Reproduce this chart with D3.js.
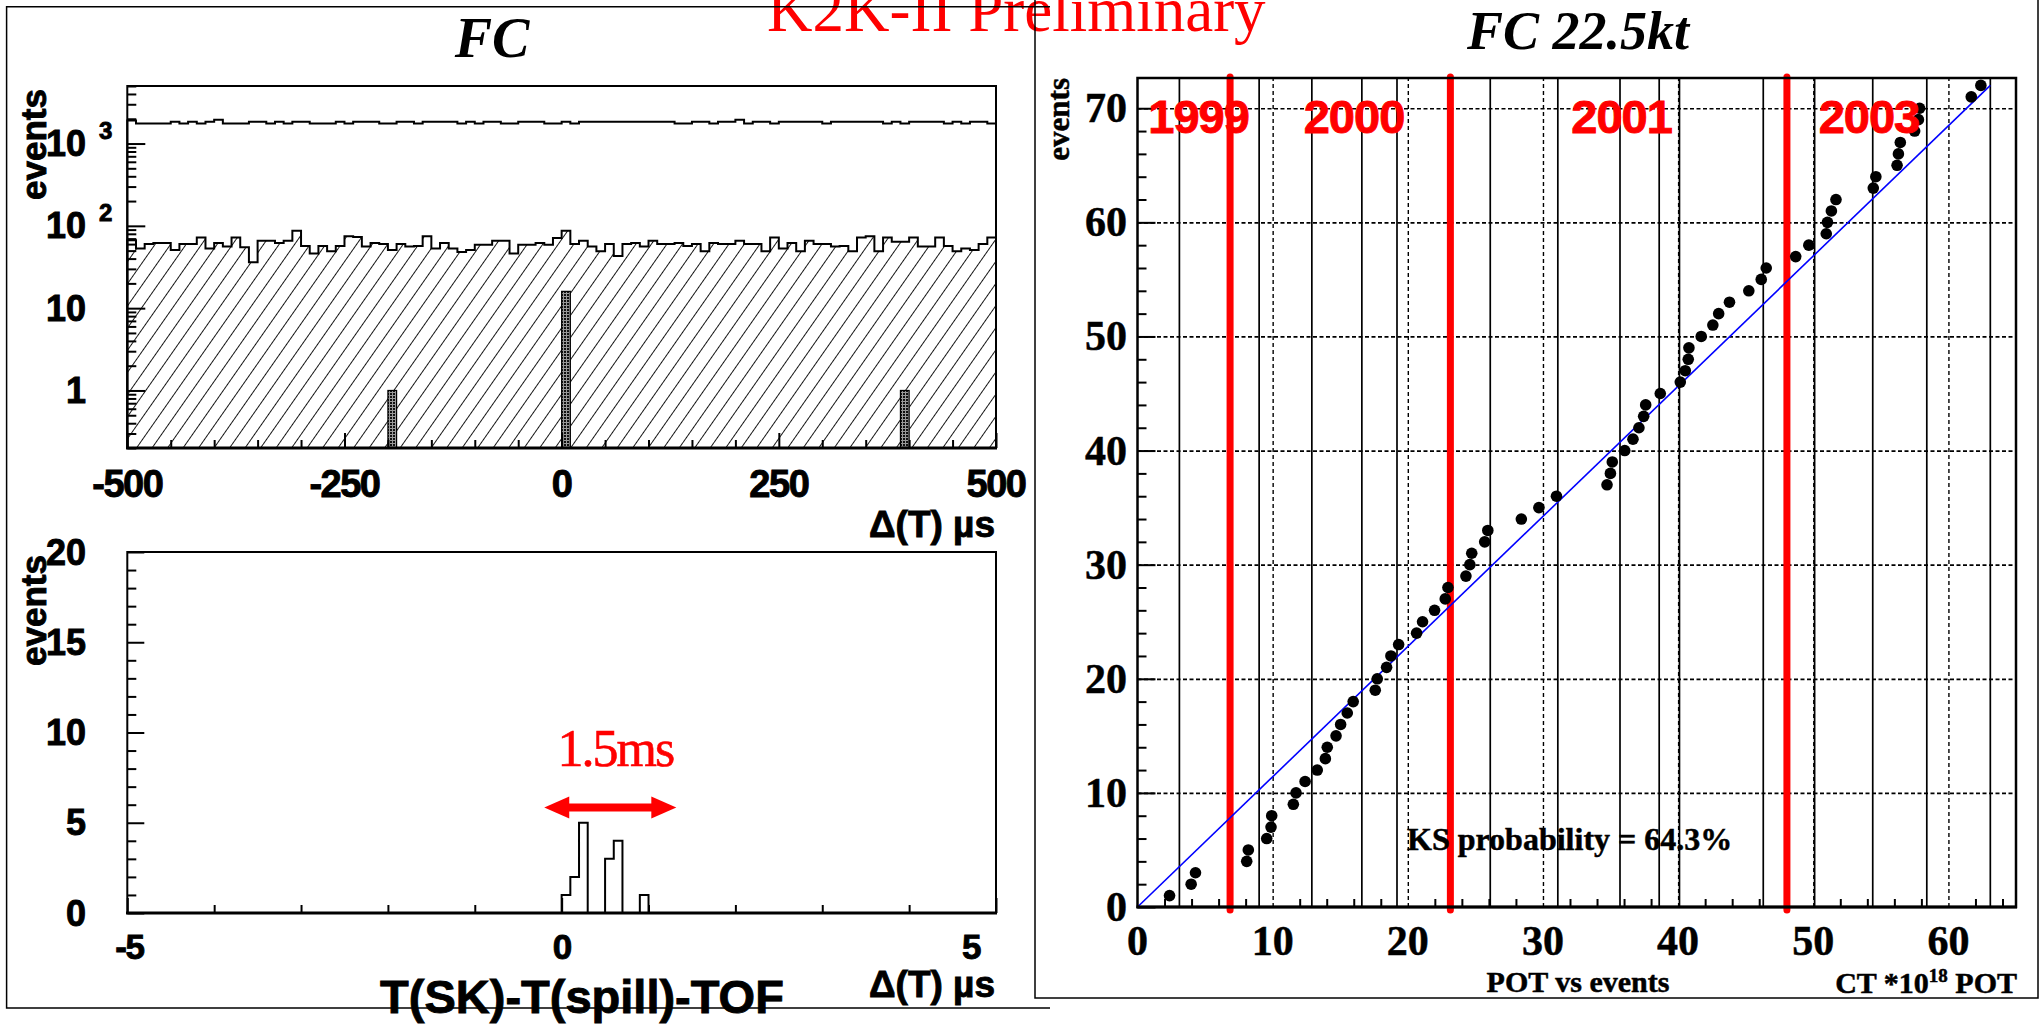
<!DOCTYPE html>
<html>
<head>
<meta charset="utf-8">
<script src="https://cdn.jsdelivr.net/npm/d3@7"></script>
<style>
  html, body { margin: 0; padding: 0; background: #fff; }
  svg { display: block; }
</style>
</head>
<body>
<svg id="chart" width="2040" height="1025"></svg>
<script>
// ---------------- data ----------------
// Delta(T) histogram, 10 us bins from -500 to 500
const dtBinStart = -500;
const dtBinWidth = 10;
const allTriggers = [
  1900,1750,1750,1750,1750,1840,1750,1840,1750,1840,
  1940,1750,1750,1750,1840,1840,1750,1840,1750,1840,
  1840,1750,1750,1750,1840,1750,1840,1840,1840,1750,
  1750,1840,1840,1750,1840,1840,1840,1840,1750,1840,
  1750,1840,1840,1750,1750,1840,1840,1840,1750,1750,
  1840,1750,1840,1840,1840,1840,1840,1840,1840,1840,
  1840,1840,1840,1750,1750,1840,1840,1750,1840,1840,
  1940,1750,1840,1840,1750,1840,1840,1840,1840,1840,
  1750,1840,1840,1840,1840,1840,1840,1750,1840,1750,
  1840,1840,1840,1840,1750,1840,1750,1840,1840,1750
];
const preCutEvents = [
  67,53,60,62,62,51,60,60,72,53,
  62,56,72,55,36,66,66,62,66,87,
  57,46,57,49,57,75,73,56,62,60,
  51,60,56,57,75,53,62,53,48,51,
  59,59,66,66,46,59,59,62,59,71,
  87,60,66,56,49,60,43,60,62,56,
  66,60,60,62,57,60,49,62,60,60,
  66,60,60,49,72,53,62,49,66,60,
  60,56,57,49,72,75,49,72,64,64,
  72,56,56,72,57,49,53,51,60,72
];
const fcBinLow = [-200, 0, 390];
const fcCounts = [1, 16, 1];

// fine timing histogram, 0.1 us bins starting at 0
const fineBinStart = 0.0;
const fineBinWidth = 0.1;
const fineCounts = [1, 2, 5, 0, 0, 3, 4, 0, 0, 1];
const spillWindow = [-0.2, 1.32];   // the 1.5 us window arrow

// accumulated POT (x10^18) at each FC event
const potValues = [
  2.37, 3.97, 4.29, 8.08, 8.20, 9.56, 9.88, 9.93, 11.53, 11.73,
  12.40, 13.30, 13.90, 14.04, 14.69, 15.03, 15.52, 15.96, 17.59, 17.74,
  18.43, 18.75, 19.32, 20.65, 21.09, 21.98, 22.77, 22.97, 24.30, 24.59,
  24.73, 25.69, 25.92, 28.40, 29.70, 31.00, 34.74, 34.99, 35.13, 36.05,
  36.66, 37.10, 37.45, 37.60, 38.68, 40.16, 40.53, 40.75, 40.80, 41.71,
  42.57, 43.00, 43.80, 45.23, 46.15, 46.52, 48.70, 49.67, 50.96, 51.05,
  51.34, 51.68, 54.44, 54.63, 56.20, 56.30, 56.44, 57.50, 57.78, 57.87,
  61.69, 62.40
];
const eventNumbers = [
  1,2,3,4,5,6,7,8,9,10,11,12,13,14,15,16,17,18,19,20,
  21,22,23,24,25,26,27,28,29,30,31,32,33,34,35,36,37,38,39,40,
  41,42,43,44,45,46,47,48,49,50,51,52,53,54,55,56,57,58,59,60,
  61,62,63,64,65,66,67,68,69,70,71,72
];
const expectedLine = [[0, 0], [63.1, 72]];
const yearBoundaries = [6.85, 23.15, 48.05];
const yearLabels = ["1999", "2000", "2001", "2003"];
const yearLabelPot = [0.8, 12.3, 32.1, 50.4];
const runBoundaries = [3.1, 9.0, 12.9, 16.6, 19.2, 26.1, 31.1, 35.7, 38.6, 40.1, 46.3, 50.1, 54.4, 58.4, 63.1];

// tick labels
const dtTicks = [-500, -250, 0, 250, 500];
const fineTicks = [-5, 0, 5];
const fineYTicks = [0, 5, 10, 15, 20];
const potTicks = [0, 10, 20, 30, 40, 50, 60];
const eventTicks = [0, 10, 20, 30, 40, 50, 60, 70];

// ---------------- drawing ----------------
const SANS = "'Liberation Sans', Arial, Helvetica, sans-serif";
const SERIF = "'Liberation Serif', 'Times New Roman', Times, serif";
const svg = d3.select("#chart");
const defs = svg.append("defs");

const hatch = defs.append("pattern")
  .attr("id", "hatch").attr("patternUnits", "userSpaceOnUse")
  .attr("width", 12.7).attr("height", 12.7)
  .attr("patternTransform", "rotate(35)");
hatch.append("line").attr("x1", 0).attr("y1", -1).attr("x2", 0).attr("y2", 14)
  .attr("stroke", "#000").attr("stroke-width", 1.8);

const stipple = defs.append("pattern")
  .attr("id", "stipple").attr("patternUnits", "userSpaceOnUse")
  .attr("width", 3).attr("height", 3);
stipple.append("rect").attr("width", 3).attr("height", 3).attr("fill", "#9a9a9a");
stipple.append("rect").attr("width", 2).attr("height", 2).attr("fill", "#111");

// heavy label styles
function sansBold(sel, size) {
  return sel.attr("font-family", SANS).attr("font-weight", "bold").attr("font-size", size)
    .attr("stroke", "#000").attr("stroke-width", 0.9);
}
function serifBold(sel, size) {
  return sel.attr("font-family", SERIF).attr("font-weight", "bold").attr("font-size", size)
    .attr("stroke", "#000").attr("stroke-width", 0.5);
}

function stepPath(x, y, start, width, values, base) {
  let d = `M${x(start)},${base}`;
  values.forEach((v, i) => {
    const lo = x(start + i * width), hi = x(start + (i + 1) * width);
    d += `L${lo},${y(v)}L${hi},${y(v)}`;
  });
  d += `L${x(start + values.length * width)},${base}`;
  return d;
}

function tickAxis(g, axis, len, values) {
  g.call(axis.tickValues(values).tickSize(len).tickSizeOuter(0).tickFormat(""));
  g.select(".domain").remove();
  g.selectAll("line").attr("stroke", "#000").attr("stroke-width", 2);
}

// ===== top-left: Delta(T) over +-500 us, log scale =====
const xT = d3.scaleLinear().domain([-500, 500]).range([127.3, 996]);
const yT = d3.scaleLog().domain([0.2, 5000]).range([448, 86]);
const topL = svg.append("g");

topL.append("path")
  .attr("d", stepPath(xT, yT, dtBinStart, dtBinWidth, preCutEvents, yT.range()[0]) + "Z")
  .attr("fill", "url(#hatch)").attr("stroke", "none");
topL.append("path")
  .attr("d", stepPath(xT, yT, dtBinStart, dtBinWidth, preCutEvents, yT.range()[0]))
  .attr("fill", "none").attr("stroke", "#000").attr("stroke-width", 2);
topL.append("path")
  .attr("d", stepPath(xT, yT, dtBinStart, dtBinWidth, allTriggers, yT.range()[0]))
  .attr("fill", "none").attr("stroke", "#000").attr("stroke-width", 2);
topL.selectAll("rect.fc").data(fcBinLow).join("rect").attr("class", "fc")
  .attr("x", d => xT(d)).attr("width", d => xT(d + dtBinWidth) - xT(d))
  .attr("y", (d, i) => yT(fcCounts[i]))
  .attr("height", (d, i) => yT.range()[0] - yT(fcCounts[i]))
  .attr("fill", "url(#stipple)").attr("stroke", "#000").attr("stroke-width", 1.2);

const dtMinor = d3.range(-450, 500, 50).filter(v => !dtTicks.includes(v));
tickAxis(topL.append("g").attr("transform", "translate(0,448)"), d3.axisBottom(xT), -8, dtMinor);
tickAxis(topL.append("g").attr("transform", "translate(0,448)"), d3.axisBottom(xT), -15, dtTicks);
const logMajor = [1, 10, 100, 1000];
const logMinor = yT.ticks().filter(v => !logMajor.includes(v));
tickAxis(topL.append("g").attr("transform", "translate(127.3,0)"), d3.axisLeft(yT), -9, logMinor);
tickAxis(topL.append("g").attr("transform", "translate(127.3,0)"), d3.axisLeft(yT), -18, logMajor);

topL.append("rect").attr("x", 127.3).attr("y", 86).attr("width", 996 - 127.3).attr("height", 448 - 86)
  .attr("fill", "none").attr("stroke", "#000").attr("stroke-width", 2);
topL.append("line").attr("x1", 126).attr("x2", 997).attr("y1", 448).attr("y2", 448)
  .attr("stroke", "#000").attr("stroke-width", 3);

sansBold(topL.selectAll("text.xl").data(dtTicks).join("text").attr("class", "xl")
  .attr("x", d => xT(d)).attr("y", 497).attr("text-anchor", "middle")
  .attr("letter-spacing", -1.5).text(d => d), 38);
const logLabels = [["1", ""], ["10", ""], ["10", "2"], ["10", "3"]];
logMajor.forEach((v, i) => {
  sansBold(topL.append("text").attr("x", 86).attr("y", yT(v) + 12.5).attr("text-anchor", "end")
    .text(logLabels[i][0]), 36);
  if (logLabels[i][1]) {
    sansBold(topL.append("text").attr("x", 99).attr("y", yT(v) - 5).text(logLabels[i][1]), 24);
  }
});
sansBold(topL.append("text").attr("transform", "translate(46,89) rotate(-90)").attr("text-anchor", "end")
  .text("events"), 35);
sansBold(topL.append("text").attr("x", 995).attr("y", 537).attr("text-anchor", "end")
  .text("\u0394(T) \u00b5s"), 37);
topL.append("text").attr("x", 492).attr("y", 57).attr("text-anchor", "middle")
  .attr("font-family", SERIF).attr("font-style", "italic").attr("font-weight", "bold")
  .attr("font-size", 56).text("FC");

// ===== bottom-left: fine timing =====
const xB = d3.scaleLinear().domain([-5, 5]).range([127.3, 996]);
const yB = d3.scaleLinear().domain([0, 20]).range([913, 552]);
const botL = svg.append("g");

{
  let d = `M${xB(-5)},${yB(0)}L${xB(fineBinStart)},${yB(0)}`;
  fineCounts.forEach((c, i) => {
    const lo = xB(fineBinStart + i * fineBinWidth), hi = xB(fineBinStart + (i + 1) * fineBinWidth);
    d += `L${lo},${yB(c)}L${hi},${yB(c)}`;
  });
  d += `L${xB(fineBinStart + fineCounts.length * fineBinWidth)},${yB(0)}L${xB(5)},${yB(0)}`;
  botL.append("path").attr("d", d).attr("fill", "none").attr("stroke", "#000").attr("stroke-width", 2);
}

const fineMinorX = d3.range(-4, 5, 1).filter(v => !fineTicks.includes(v));
tickAxis(botL.append("g").attr("transform", "translate(0,913)"), d3.axisBottom(xB), -8, fineMinorX);
tickAxis(botL.append("g").attr("transform", "translate(0,913)"), d3.axisBottom(xB), -15, fineTicks);
const fineMinorY = d3.range(1, 20, 1).filter(v => !fineYTicks.includes(v));
tickAxis(botL.append("g").attr("transform", "translate(127.3,0)"), d3.axisLeft(yB), -9, fineMinorY);
tickAxis(botL.append("g").attr("transform", "translate(127.3,0)"), d3.axisLeft(yB), -17, fineYTicks);

botL.append("rect").attr("x", 127.3).attr("y", 552).attr("width", 996 - 127.3).attr("height", 913 - 552)
  .attr("fill", "none").attr("stroke", "#000").attr("stroke-width", 2);
botL.append("line").attr("x1", 126).attr("x2", 997).attr("y1", 913).attr("y2", 913)
  .attr("stroke", "#000").attr("stroke-width", 3);

const fineLabelShift = { "-5": 2, "0": 0, "5": -25 };
sansBold(botL.selectAll("text.xl").data(fineTicks).join("text").attr("class", "xl")
  .attr("x", d => xB(d) + fineLabelShift[d]).attr("y", 959).attr("text-anchor", "middle")
  .attr("letter-spacing", -1.5).text(d => d), 35);
sansBold(botL.selectAll("text.yl").data(fineYTicks).join("text").attr("class", "yl")
  .attr("x", 86).attr("y", d => yB(d) + 12.5).attr("text-anchor", "end").text(d => d), 36);
sansBold(botL.append("text").attr("transform", "translate(46,555) rotate(-90)").attr("text-anchor", "end")
  .text("events"), 35);
sansBold(botL.append("text").attr("x", 995).attr("y", 997).attr("text-anchor", "end")
  .text("\u0394(T) \u00b5s"), 37);
sansBold(botL.append("text").attr("x", 582).attr("y", 1013).attr("text-anchor", "middle")
  .text("T(SK)-T(spill)-TOF"), 47);

// 1.5 us window arrow
{
  const ay = yB(5.85), a0 = xB(spillWindow[0]), a1 = xB(spillWindow[1]);
  const head = 25, half = 11;
  botL.append("line").attr("x1", a0 + head - 2).attr("x2", a1 - head + 2).attr("y1", ay).attr("y2", ay)
    .attr("stroke", "#ff0000").attr("stroke-width", 8);
  botL.append("path").attr("d", `M${a0},${ay}L${a0 + head},${ay - half}L${a0 + head},${ay + half}Z`).attr("fill", "#ff0000");
  botL.append("path").attr("d", `M${a1},${ay}L${a1 - head},${ay - half}L${a1 - head},${ay + half}Z`).attr("fill", "#ff0000");
  botL.append("text").attr("x", (a0 + a1) / 2 + 5).attr("y", 766).attr("text-anchor", "middle")
    .attr("font-family", SERIF).attr("font-size", 52).attr("fill", "#ff0000")
    .attr("stroke", "#ff0000").attr("stroke-width", 0.6)
    .attr("letter-spacing", -2).text("1.5ms");
}

// ===== right: cumulative events vs POT =====
const rightPad = svg.append("g");
rightPad.append("rect").attr("x", 1035).attr("y", -2).attr("width", 1003).attr("height", 1000)
  .attr("fill", "#fff").attr("stroke", "none");

const xR = d3.scaleLinear().domain([0, 65]).range([1137.5, 2016]);
const yR = d3.scaleLinear().domain([0, 72.65]).range([907, 78]);
const pr = rightPad.append("g");
const plotW = xR.range()[1] - xR.range()[0], plotH = yR.range()[0] - yR.range()[1];

// grid
const gH = pr.append("g").attr("transform", `translate(${xR.range()[0]},0)`)
  .call(d3.axisLeft(yR).tickValues(eventTicks.slice(1)).tickSize(-plotW).tickSizeOuter(0).tickFormat(""));
gH.select(".domain").remove();
gH.selectAll("line").attr("stroke", "#000").attr("stroke-width", 1.7).attr("stroke-dasharray", "4,2.5");
const gV = pr.append("g").attr("transform", `translate(0,${yR.range()[0]})`)
  .call(d3.axisBottom(xR).tickValues(potTicks.slice(1)).tickSize(-plotH).tickSizeOuter(0).tickFormat(""));
gV.select(".domain").remove();
gV.selectAll("line").attr("stroke", "#000").attr("stroke-width", 1.4).attr("stroke-dasharray", "4,3");

// run period boundaries
pr.selectAll("line.run").data(runBoundaries).join("line").attr("class", "run")
  .attr("x1", d => xR(d)).attr("x2", d => xR(d)).attr("y1", yR.range()[1]).attr("y2", yR.range()[0])
  .attr("stroke", "#000").attr("stroke-width", 1.7);

// ticks
const potMinor = d3.range(2, 65, 2).filter(v => v % 10 !== 0);
tickAxis(pr.append("g").attr("transform", `translate(0,${yR.range()[0]})`), d3.axisBottom(xR), -8, potMinor);
const evMinor = d3.range(2, 72, 2).filter(v => v % 10 !== 0);
tickAxis(pr.append("g").attr("transform", `translate(${xR.range()[0]},0)`), d3.axisLeft(yR), -9, evMinor);
tickAxis(pr.append("g").attr("transform", `translate(${xR.range()[0]},0)`), d3.axisLeft(yR), -18, eventTicks);

// year boundaries
pr.selectAll("line.year").data(yearBoundaries).join("line").attr("class", "year")
  .attr("x1", d => xR(d)).attr("x2", d => xR(d)).attr("y1", yR.range()[1] - 1).attr("y2", yR.range()[0] + 3)
  .attr("stroke", "#ff0000").attr("stroke-width", 7).attr("stroke-linecap", "round");

// expected line
pr.append("path").attr("d", d3.line().x(d => xR(d[0])).y(d => yR(d[1]))(expectedLine))
  .attr("fill", "none").attr("stroke", "#0000ff").attr("stroke-width", 1.6);

// events
pr.selectAll("circle.ev").data(potValues).join("circle").attr("class", "ev")
  .attr("cx", d => xR(d)).attr("cy", (d, i) => yR(eventNumbers[i])).attr("r", 5.8).attr("fill", "#000");

// frame
pr.append("rect").attr("x", xR.range()[0]).attr("y", yR.range()[1]).attr("width", plotW).attr("height", plotH)
  .attr("fill", "none").attr("stroke", "#000").attr("stroke-width", 2.5);
pr.append("line").attr("x1", xR.range()[0] - 1).attr("x2", xR.range()[1] + 1).attr("y1", yR.range()[0]).attr("y2", yR.range()[0])
  .attr("stroke", "#000").attr("stroke-width", 3);

// year labels
pr.selectAll("text.yr").data(yearLabels).join("text").attr("class", "yr")
  .attr("x", (d, i) => xR(yearLabelPot[i])).attr("y", 133)
  .attr("font-family", SANS).attr("font-weight", "bold").attr("font-size", 47)
  .attr("fill", "#ff0000").attr("stroke", "#ff0000").attr("stroke-width", 0.9)
  .attr("letter-spacing", -1).text(d => d);

// axis labels
serifBold(pr.selectAll("text.xl").data(potTicks).join("text").attr("class", "xl")
  .attr("x", d => xR(d)).attr("y", 955).attr("text-anchor", "middle").text(d => d), 42);
serifBold(pr.selectAll("text.yl").data(eventTicks).join("text").attr("class", "yl")
  .attr("x", 1127).attr("y", d => yR(d) + 14).attr("text-anchor", "end").text(d => d), 42);
serifBold(pr.append("text").attr("transform", "translate(1069,78) rotate(-90)").attr("text-anchor", "end")
  .text("events"), 31);
serifBold(pr.append("text").attr("x", 1407).attr("y", 850).text("KS probability = 64.3%"), 32);
serifBold(pr.append("text").attr("x", 1578).attr("y", 992).attr("text-anchor", "middle")
  .text("POT vs events"), 30);
{
  const t = serifBold(pr.append("text").attr("x", 2017).attr("y", 993).attr("text-anchor", "end"), 30);
  t.append("tspan").text("CT *10");
  t.append("tspan").attr("dy", -11).attr("font-size", 19).text("18");
  t.append("tspan").attr("dy", 11).text(" POT");
}
pr.append("text").attr("x", 1578).attr("y", 49).attr("text-anchor", "middle")
  .attr("font-family", SERIF).attr("font-style", "italic").attr("font-weight", "bold").attr("font-size", 54)
  .text("FC 22.5kt");

// banner
svg.append("text").attr("x", 767).attr("y", 31)
  .attr("font-family", SERIF).attr("font-size", 63).attr("fill", "#ff0000").text("K2K-II Preliminary");

// pad borders
const pads = svg.append("g").attr("stroke", "#000").attr("stroke-width", 1.5).attr("fill", "none");
pads.append("path").attr("d", "M1050,6.7L6.6,6.7L6.6,1008L1050,1008");
pads.append("rect").attr("x", 1035).attr("y", -2).attr("width", 1003).attr("height", 1000);
</script>
</body>
</html>
